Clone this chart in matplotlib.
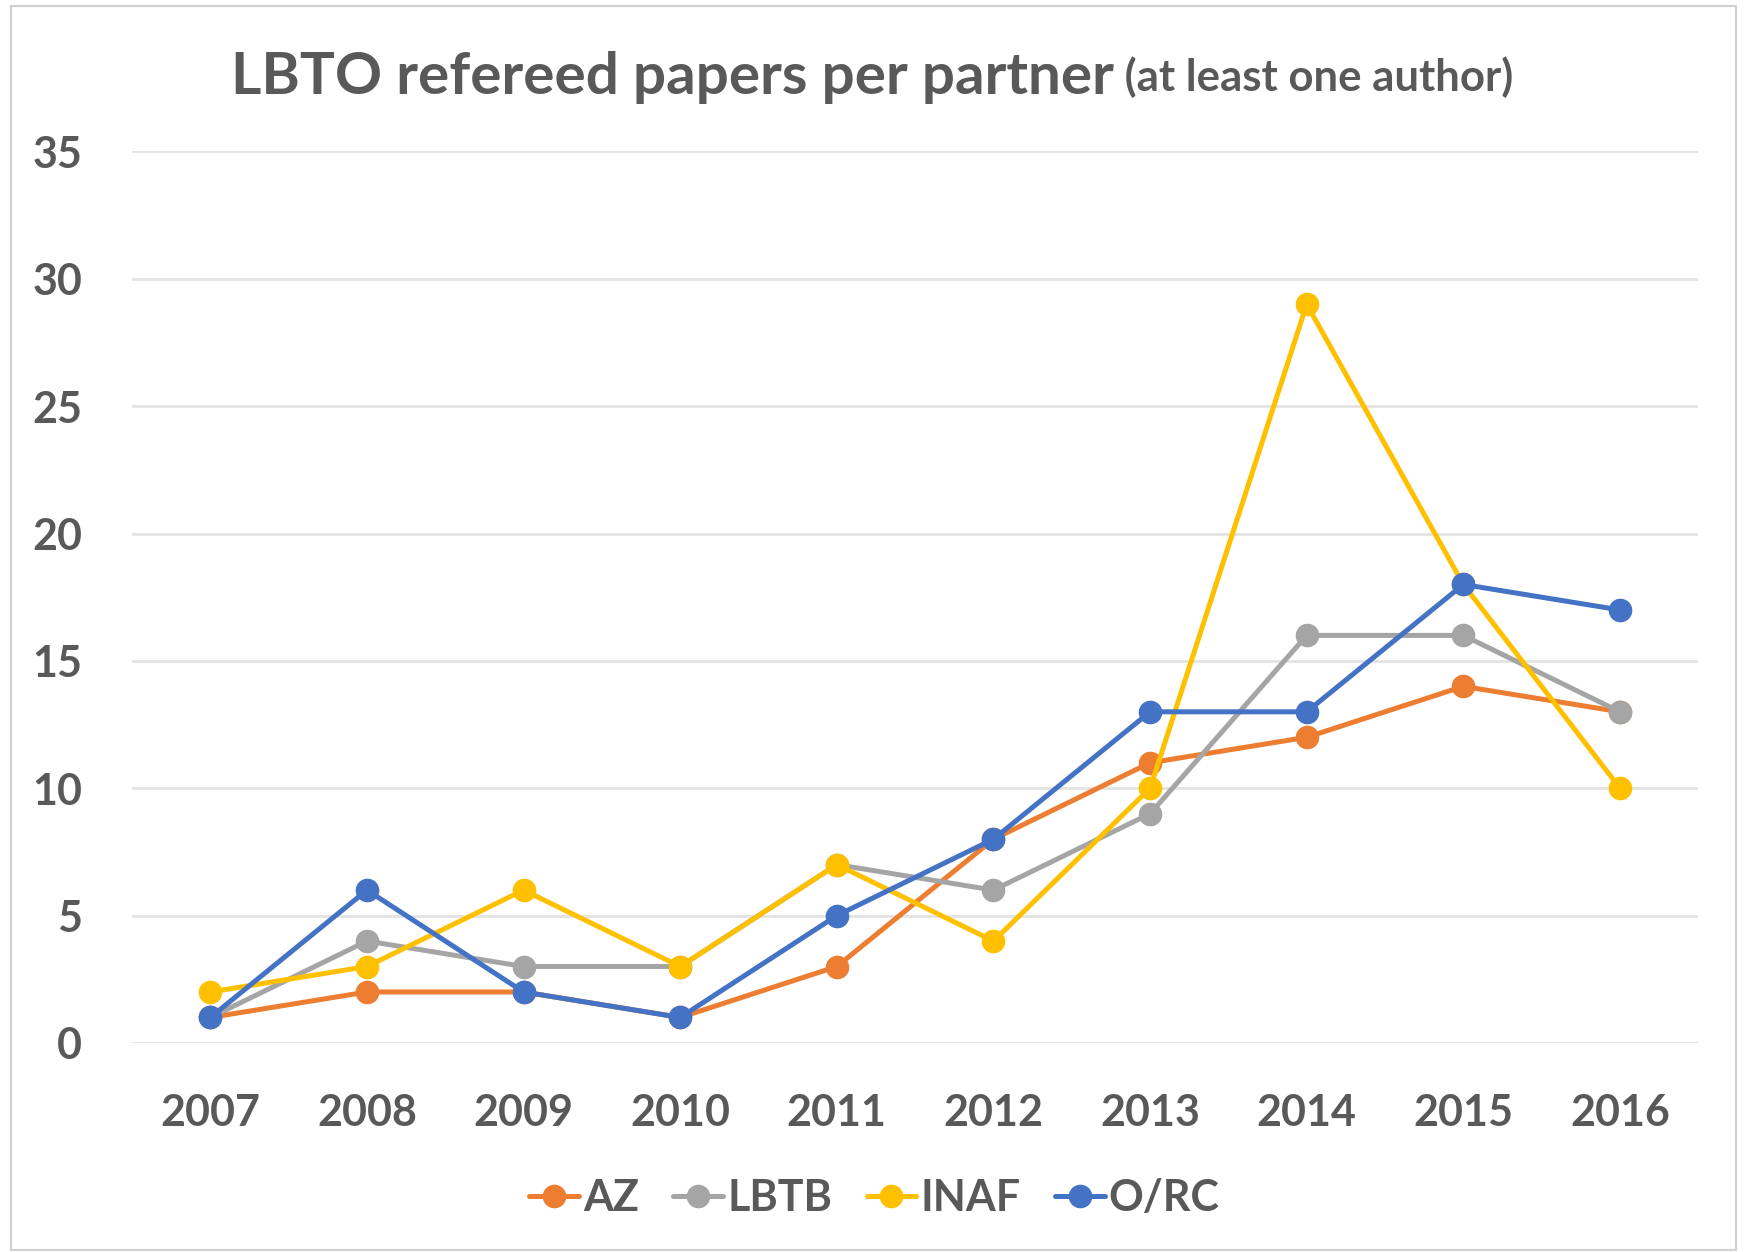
import matplotlib
matplotlib.use("Agg")
import matplotlib.pyplot as plt
from matplotlib.patches import Rectangle

years = ["2007", "2008", "2009", "2010", "2011", "2012", "2013", "2014", "2015", "2016"]
az = [1, 2, 2, 1, 3, 8, 11, 12, 14, 13]
lbtb = [1, 4, 3, 3, 7, 6, 9, 16, 16, 13]
inaf = [2, 3, 6, 3, 7, 4, 10, 29, 18, 10]
orc = [1, 6, 2, 1, 5, 8, 13, 13, 18, 17]

series = [
    ("AZ", az, "#ED7D31"),
    ("LBTB", lbtb, "#A5A5A5"),
    ("INAF", inaf, "#FFC000"),
    ("O/RC", orc, "#4472C4"),
]

text_color = "#595959"
plt.rcParams["font.family"] = ["Lato", "DejaVu Sans"]

fig = plt.figure(figsize=(17.49, 12.52), dpi=100)
ax = fig.add_axes([0.0755, 0.167, 0.8955, 0.712])

x = list(range(len(years)))
for name, values, color in series:
    ax.plot(x, values, color=color, linewidth=3.6, marker="o",
            markersize=16, label=name, solid_capstyle="round")

ax.set_xlim(-0.5, len(years) - 0.5)
ax.set_ylim(0, 35)
ax.set_yticks(range(0, 36, 5))
ax.set_xticks(x)
ax.set_xticklabels(years)
ax.yaxis.grid(True, color="#E3E3E3", linewidth=2)
ax.set_axisbelow(True)
for spine in ax.spines.values():
    spine.set_visible(False)
ax.tick_params(axis="both", length=0, labelsize=31, labelcolor=text_color)
ax.tick_params(axis="y", pad=36)
ax.tick_params(axis="x", pad=36)
for lbl in ax.get_xticklabels() + ax.get_yticklabels():
    lbl.set_fontweight("bold")

leg = fig.legend(loc="center", bbox_to_anchor=(0.5, 0.043), ncol=4, frameon=False,
                 handlelength=1.15, handletextpad=0.1, columnspacing=0.8,
                 prop={"weight": "bold", "size": 31})
for t in leg.get_texts():
    t.set_color(text_color)

# title in two parts, centred together
main = fig.text(0, 0.938, "LBTO refereed papers per partner", fontsize=42,
                fontweight="bold", color=text_color, va="center", ha="left")
sub = fig.text(0, 0.938, " (at least one author)", fontsize=31.5,
               fontweight="bold", color=text_color, va="center", ha="left")
fig.canvas.draw()
r = fig.canvas.get_renderer()
w1 = main.get_window_extent(r).width / fig.bbox.width
w2 = sub.get_window_extent(r).width / fig.bbox.width
x0 = 0.4985 - (w1 + w2) / 2
main.set_x(x0)
sub.set_x(x0 + w1)

fig.patches.append(Rectangle((11 / 1749, 2 / 1252), 1725 / 1749, 1244 / 1252,
                             transform=fig.transFigure, fill=False,
                             edgecolor="#D0D0D0", linewidth=1.5))

fig.savefig("out.png", dpi=100)
